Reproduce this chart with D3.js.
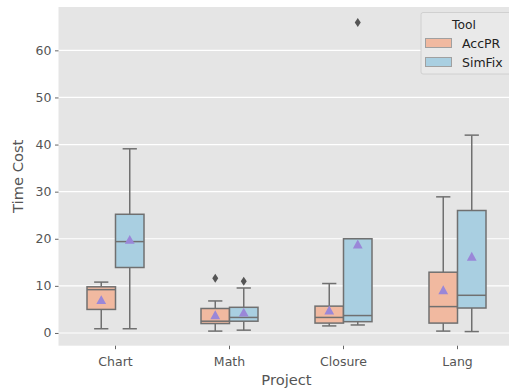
<!DOCTYPE html>
<html><head><meta charset="utf-8">
<script src="https://cdn.jsdelivr.net/npm/d3@7"></script>
<style>body{margin:0;background:#fff}svg{display:block}text{font-family:"DejaVu Sans",sans-serif}</style>
</head><body><svg id="c" width="509" height="391"></svg>
<script>
const projects = ["Chart", "Math", "Closure", "Lang"];
const tools = ["AccPR", "SimFix"];
const yTicks = [0, 10, 20, 30, 40, 50, 60];
// per-project statistics, in project order
const accprLow    = [0.9, 0.4, 1.5, 0.4];
const accprQ1     = [5.0, 2.0, 2.1, 2.1];
const accprMedian = [9.2, 2.5, 3.3, 5.6];
const accprQ3     = [9.8, 5.2, 5.7, 12.9];
const accprHigh   = [10.8, 6.8, 10.5, 28.9];
const accprMean   = [6.9, 3.7, 4.7, 9.0];
const accprOutliers = [[], [11.6], [], []];
const simfixLow    = [0.9, 0.6, 1.7, 0.3];
const simfixQ1     = [13.9, 2.5, 2.4, 5.3];
const simfixMedian = [19.4, 3.3, 3.7, 8.0];
const simfixQ3     = [25.2, 5.45, 20.0, 26.0];
const simfixHigh   = [39.1, 9.55, 20.0, 42.0];
const simfixMean   = [19.7, 4.25, 18.7, 16.1];
const simfixOutliers = [[], [11.0], [65.9], []];

const colors = {AccPR: "#f1b9a0", SimFix: "#a9cfe1"};
const edge = "#707070";

const stats = {
  AccPR: projects.map((p,i)=>({p, lo:accprLow[i], q1:accprQ1[i], med:accprMedian[i], q3:accprQ3[i], hi:accprHigh[i], mean:accprMean[i], out:accprOutliers[i]})),
  SimFix: projects.map((p,i)=>({p, lo:simfixLow[i], q1:simfixQ1[i], med:simfixMedian[i], q3:simfixQ3[i], hi:simfixHigh[i], mean:simfixMean[i], out:simfixOutliers[i]}))
};

const svg = d3.select("#c");
const L = 58.5, R = 514.5, T = 7, B = 345.7;
const x = d3.scaleBand().domain(projects).range([L, R]).paddingInner(0).paddingOuter(0);
const bw = x.bandwidth();
const xh = d3.scaleBand().domain(tools).range([0, bw*0.5]);
const y = d3.scaleLinear().domain([-2.7, 69.2]).range([B, T]);

svg.append("rect").attr("x", L).attr("y", T).attr("width", R-L).attr("height", B-T).attr("fill", "#e5e5e5");
const g = svg.append("g");
g.selectAll("line.grid").data(yTicks).join("line")
  .attr("x1", L).attr("x2", R).attr("y1", d=>y(d)).attr("y2", d=>y(d))
  .attr("stroke", "#fff").attr("stroke-width", 1.2);

// axes
const ya = svg.append("g").attr("transform", `translate(${L},0)`)
  .call(d3.axisLeft(y).tickValues(yTicks).tickSize(3.5).tickPadding(3.5));
const xa = svg.append("g").attr("transform", `translate(0,${B})`)
  .call(d3.axisBottom(x).tickSize(3.5).tickPadding(7.5));
[ya, xa].forEach(a => {
  a.select(".domain").remove();
  a.selectAll("line").attr("stroke", "#555").attr("stroke-width", 0.9);
  a.selectAll("text").attr("fill", "#555").attr("font-size", 12.5);
});

svg.append("text").attr("x", (L+R)/2).attr("y", 385).attr("text-anchor", "middle")
  .attr("font-size", 14.7).attr("fill", "#555").text("Project");
svg.append("text").attr("transform", `translate(23,${(T+B)/2}) rotate(-90)`).attr("text-anchor", "middle")
  .attr("font-size", 14.7).attr("fill", "#555").text("Time Cost");

const boxW = xh.bandwidth();
tools.forEach(t => {
  const gg = svg.append("g");
  stats[t].forEach(s => {
    const x0 = x(s.p) + bw*0.25 + xh(t);
    const cx = x0 + boxW/2;
    gg.append("line").attr("x1", cx).attr("x2", cx).attr("y1", y(s.q1)).attr("y2", y(s.lo)).attr("stroke", edge).attr("stroke-width", 1.5);
    gg.append("line").attr("x1", cx).attr("x2", cx).attr("y1", y(s.q3)).attr("y2", y(s.hi)).attr("stroke", edge).attr("stroke-width", 1.5);
    gg.append("line").attr("x1", cx-boxW/4).attr("x2", cx+boxW/4).attr("y1", y(s.lo)).attr("y2", y(s.lo)).attr("stroke", edge).attr("stroke-width", 1.5);
    gg.append("line").attr("x1", cx-boxW/4).attr("x2", cx+boxW/4).attr("y1", y(s.hi)).attr("y2", y(s.hi)).attr("stroke", edge).attr("stroke-width", 1.5);
    gg.append("rect").attr("x", x0).attr("width", boxW).attr("y", y(s.q3)).attr("height", y(s.q1)-y(s.q3))
      .attr("fill", colors[t]).attr("stroke", edge).attr("stroke-width", 1.5);
    gg.append("line").attr("x1", x0).attr("x2", x0+boxW).attr("y1", y(s.med)).attr("y2", y(s.med)).attr("stroke", edge).attr("stroke-width", 1.5);
    s.out.forEach(o => {
      const oy = y(o);
      gg.append("path").attr("d", `M${cx},${oy-4.5}L${cx+3},${oy}L${cx},${oy+4.5}L${cx-3},${oy}Z`).attr("fill", "#555");
    });
    const my = y(s.mean);
    gg.append("path").attr("d", `M${cx},${my-5.3}L${cx+4.9},${my+3.6}L${cx-4.9},${my+3.6}Z`).attr("fill", "#9a87d8");
  });
});

// legend
const lg = svg.append("g");
lg.append("rect").attr("x", 421).attr("y", 12.5).attr("width", 100).attr("height", 61.5).attr("rx", 2)
  .attr("fill", "#e9e9e9").attr("stroke", "#d0d0d0").attr("stroke-width", 1);
lg.append("text").attr("x", 464).attr("y", 28.5).attr("text-anchor", "middle").attr("font-size", 12.3).attr("fill", "#222").text("Tool");
tools.forEach((t, i) => {
  lg.append("rect").attr("x", 425.5).attr("y", 38.5 + i*19).attr("width", 26).attr("height", 9)
    .attr("fill", colors[t]).attr("stroke", "#a0a0a0").attr("stroke-width", 1);
  lg.append("text").attr("x", 462).attr("y", 47.5 + i*19).attr("font-size", 12.5).attr("fill", "#222").text(t);
});
</script></body></html>
